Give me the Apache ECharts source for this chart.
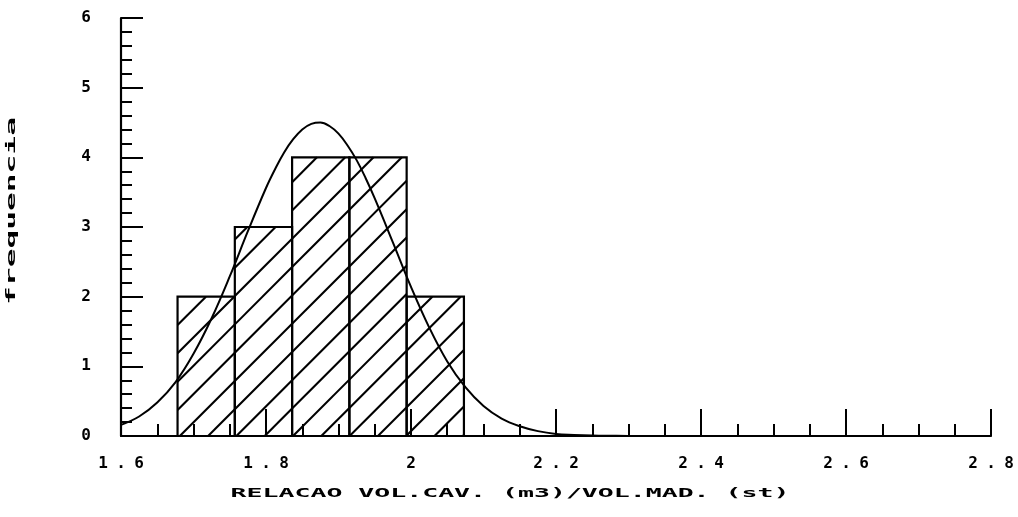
<!DOCTYPE html>
<html>
<head>
<meta charset="utf-8">
<script src="https://cdn.jsdelivr.net/npm/echarts@6/dist/echarts.min.js"></script>
<style>
  html, body { margin: 0; padding: 0; background: #fff; }
  #chart { width: 1018px; height: 517px; }
</style>
</head>
<body>
<div id="chart"></div>
<script>
// histogram bins (class edges) and counts
var binEdges = [1.678, 1.757, 1.836, 1.915, 1.994, 2.073];
var counts = [2, 3, 4, 4, 2];

// fitted curve
var curveX = [1.600, 1.625, 1.650, 1.675, 1.700, 1.725, 1.750, 1.775, 1.800, 1.8125, 1.825, 1.8375, 1.850,
              1.8625, 1.875, 1.8875, 1.900, 1.9125, 1.925, 1.9375, 1.950, 1.975, 2.000, 2.025, 2.050, 2.075,
              2.100, 2.125, 2.150, 2.175, 2.200, 2.225, 2.250, 2.275, 2.300];
var curveY = [0.16, 0.28, 0.48, 0.77, 1.18, 1.69, 2.29, 2.94, 3.56, 3.83, 4.07, 4.26, 4.40,
              4.48, 4.50, 4.45, 4.34, 4.17, 3.96, 3.70, 3.41, 2.78, 2.14, 1.56, 1.07, 0.70,
              0.43, 0.25, 0.14, 0.07, 0.03, 0.016, 0.007, 0.003, 0.001];

var xTickLabels = ["1.6", "1.8", "2", "2.2", "2.4", "2.6", "2.8"];
var yTickLabels = ["0", "1", "2", "3", "4", "5", "6"];

var xTitle = "RELACAO VOL.CAV. (m3)/VOL.MAD. (st)";
var yTitle = "frequencia";

var monoFont = '"DejaVu Sans Mono", monospace';

// spread chars a bit like the plotter font
function spaced(str) {
  return str.split("").map(function (ch) {
    return "{c|" + ch + "}";
  }).join("");
}

var bins = [];
for (var i = 0; i < counts.length; i++) {
  bins.push([binEdges[i], binEdges[i + 1], counts[i]]);
}
var curve = [];
for (var j = 0; j < curveX.length; j++) {
  curve.push([curveX[j], curveY[j]]);
}

// "/" hatch lines inside a rect, x + y = const, same phase for every bar
var hatchStep = 28.3;
var hatchPhase = 21.5;
function hatchLines(x0, y0, x1, y1) {
  var out = [];
  var n = Math.ceil((x0 + y0 - hatchPhase) / hatchStep);
  for (var c = hatchPhase + n * hatchStep; c <= x1 + y1; c += hatchStep) {
    var xa = Math.max(x0, c - y1);
    var xb = Math.min(x1, c - y0);
    if (xb - xa < 0.5) continue;
    out.push({
      type: "line",
      shape: { x1: xa, y1: c - xa, x2: xb, y2: c - xb },
      style: { stroke: "#000", lineWidth: 2.1 }
    });
  }
  return out;
}

var myChart = echarts.init(document.getElementById("chart"));

var labelRich = {
  c: { width: 18, align: "center", fontFamily: monoFont, fontWeight: "bold", fontSize: 16, color: "#000" }
};

var option = {
  animation: false,
  backgroundColor: "#fff",
  grid: { left: 121, right: 27, top: 18, bottom: 81 },
  xAxis: {
    type: "value",
    min: 1.6,
    max: 2.8,
    interval: 0.2,
    axisLine: { lineStyle: { color: "#000", width: 2.2 } },
    axisTick: { inside: true, length: 27, lineStyle: { color: "#000", width: 2 } },
    minorTick: { show: true, splitNumber: 4, length: 12, lineStyle: { color: "#000", width: 2 } },
    splitLine: { show: false },
    axisLabel: {
      margin: 20,
      fontFamily: monoFont,
      fontWeight: "bold",
      fontSize: 16,
      color: "#000",
      formatter: function (v) {
        var idx = Math.round((v - 1.6) / 0.2);
        return spaced(xTickLabels[idx] || "");
      },
      rich: labelRich
    }
  },
  yAxis: {
    type: "value",
    min: 0,
    max: 6,
    interval: 1,
    axisLine: { lineStyle: { color: "#000", width: 2.2 } },
    axisTick: { inside: true, length: 22, lineStyle: { color: "#000", width: 2 } },
    minorTick: { show: true, splitNumber: 5, length: 11, lineStyle: { color: "#000", width: 2 } },
    splitLine: { show: false },
    axisLabel: {
      margin: 26,
      fontFamily: monoFont,
      fontWeight: "bold",
      fontSize: 16,
      color: "#000",
      formatter: function (v) {
        return spaced(yTickLabels[Math.round(v)] || "");
      },
      rich: labelRich
    }
  },
  graphic: [
    {
      type: "text",
      x: 510,
      y: 494,
      scaleX: 2.04,
      style: {
        text: xTitle,
        font: "bold 13px " + monoFont,
        fill: "#000",
        textAlign: "center",
        textVerticalAlign: "middle"
      }
    },
    {
      type: "text",
      x: 12,
      y: 211,
      rotation: Math.PI / 2,
      scaleX: 2.4,
      style: {
        text: yTitle,
        font: "bold 13px " + monoFont,
        fill: "#000",
        textAlign: "center",
        textVerticalAlign: "middle"
      }
    }
  ],
  series: [
    {
      type: "custom",
      data: bins,
      z: 2,
      renderItem: function (params, api) {
        var p0 = api.coord([api.value(0), api.value(2)]);
        var p1 = api.coord([api.value(1), 0]);
        var kids = hatchLines(p0[0], p0[1], p1[0], p1[1]);
        kids.push({
          type: "rect",
          shape: { x: p0[0], y: p0[1], width: p1[0] - p0[0], height: p1[1] - p0[1] },
          style: { fill: null, stroke: "#000", lineWidth: 2.2 }
        });
        return { type: "group", children: kids };
      }
    },
    {
      type: "line",
      data: curve,
      z: 3,
      smooth: 0.4,
      showSymbol: false,
      lineStyle: { color: "#000", width: 2 }
    }
  ]
};

myChart.setOption(option);
</script>
</body>
</html>
